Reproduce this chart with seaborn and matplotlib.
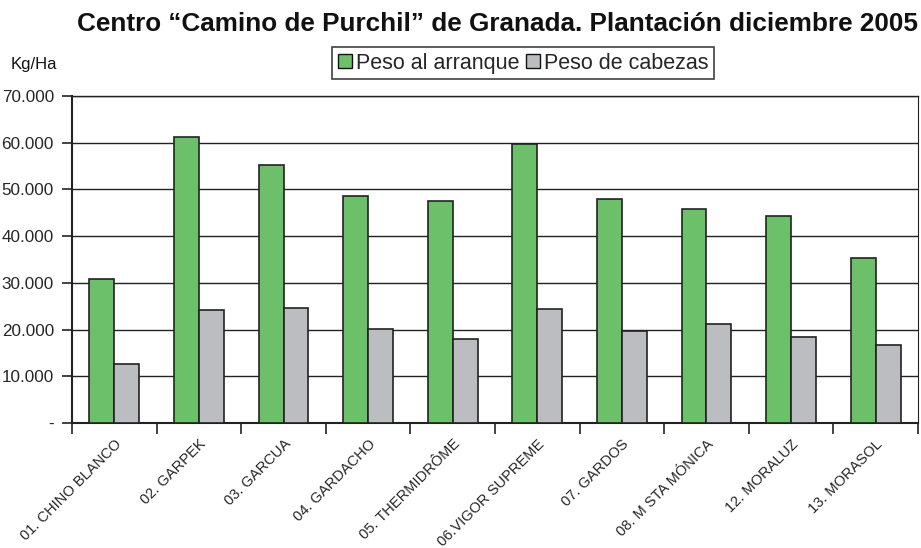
import numpy as np
import pandas as pd
import matplotlib
matplotlib.use('Agg')
import matplotlib.pyplot as plt
import seaborn as sns
from matplotlib.ticker import FixedLocator, FuncFormatter

# data
variedades = ['01. CHINO BLANCO', '02. GARPEK', '03. GARCUA', '04. GARDACHO',
              '05. THERMIDRÔME', '06.VIGOR SUPREME', '07. GARDOS',
              '08. M STA MÓNICA', '12. MORALUZ', '13. MORASOL']
peso_arranque = [30900, 61300, 55200, 48600, 47600, 59700, 48000, 45800, 44400, 35400]
peso_cabezas = [12600, 24100, 24600, 20200, 18000, 24500, 19700, 21100, 18500, 16800]
series = ['Peso al arranque', 'Peso de cabezas']
colores = ['#6cc069', '#bcbdc1']
y_ticks = [0, 10000, 20000, 30000, 40000, 50000, 60000, 70000]

df = pd.DataFrame({
    'variedad': variedades * 2,
    'serie': [series[0]] * len(variedades) + [series[1]] * len(variedades),
    'kg': peso_arranque + peso_cabezas,
})

sns.set_style('white')
plt.rcParams['font.family'] = ['Liberation Sans', 'DejaVu Sans']

fig = plt.figure(figsize=(9.21, 5.48), dpi=100)
ax = fig.add_axes([0.0782, 0.228, 0.9185, 0.597])

sns.barplot(data=df, x='variedad', y='kg', hue='serie', palette=colores,
            saturation=1, width=0.59, edgecolor='#222222', linewidth=1.2,
            ax=ax, zorder=3)

ax.set_ylim(0, 70000)
ax.set_xlim(-0.5, len(variedades) - 0.5)
ax.yaxis.set_major_locator(FixedLocator(y_ticks))
ax.yaxis.set_major_formatter(FuncFormatter(
    lambda v, p: '-' if v == 0 else f'{int(v):,}'.replace(',', '.')))
ax.grid(axis='y', color='#222222', linewidth=1.0, zorder=0)
ax.set_axisbelow(True)

for s in ax.spines.values():
    s.set_color('#222222')
    s.set_linewidth(1.0)
ax.spines['left'].set_linewidth(1.5)
ax.spines['bottom'].set_linewidth(1.5)
ax.spines['right'].set_linewidth(0.8)

ax.tick_params(axis='y', which='major', left=True, length=7, width=1.2,
               color='#222222', labelsize=12.3, pad=6)
ax.set_xticks(range(len(variedades)))
ax.set_xticklabels(variedades, rotation=45, ha='right', rotation_mode='anchor',
                   fontsize=10.5)
ax.tick_params(axis='x', which='major', bottom=False, length=0, pad=10)
ax.set_xticks(np.arange(-0.5, len(variedades) + 0.5, 1), minor=True)
ax.tick_params(axis='x', which='minor', bottom=True, length=8, width=1.2,
               color='#222222')

ax.set_xlabel('')
ax.set_ylabel('')

leg = ax.legend(loc='center', bbox_to_anchor=(0.5335, 1.1), ncol=2,
                frameon=True, fancybox=False, fontsize=15.5,
                handlelength=0.65, handleheight=0.65, handletextpad=0.2,
                columnspacing=0.3, borderpad=0.25, borderaxespad=0)
leg.get_frame().set_edgecolor('#111111')
leg.get_frame().set_linewidth(1.2)
for h in leg.legend_handles:
    h.set_edgecolor('#111111')
    h.set_linewidth(1.0)

fig.text(0.9967, 0.956, 'Centro \u201cCamino de Purchil\u201d de Granada. Plantación diciembre 2005',
         ha='right', va='center', fontsize=18.8, fontweight='bold', color='#111111')
fig.text(0.011, 0.882, 'Kg/Ha', ha='left', va='center', fontsize=12, color='#111111')

fig.savefig('out.png', dpi=100)
